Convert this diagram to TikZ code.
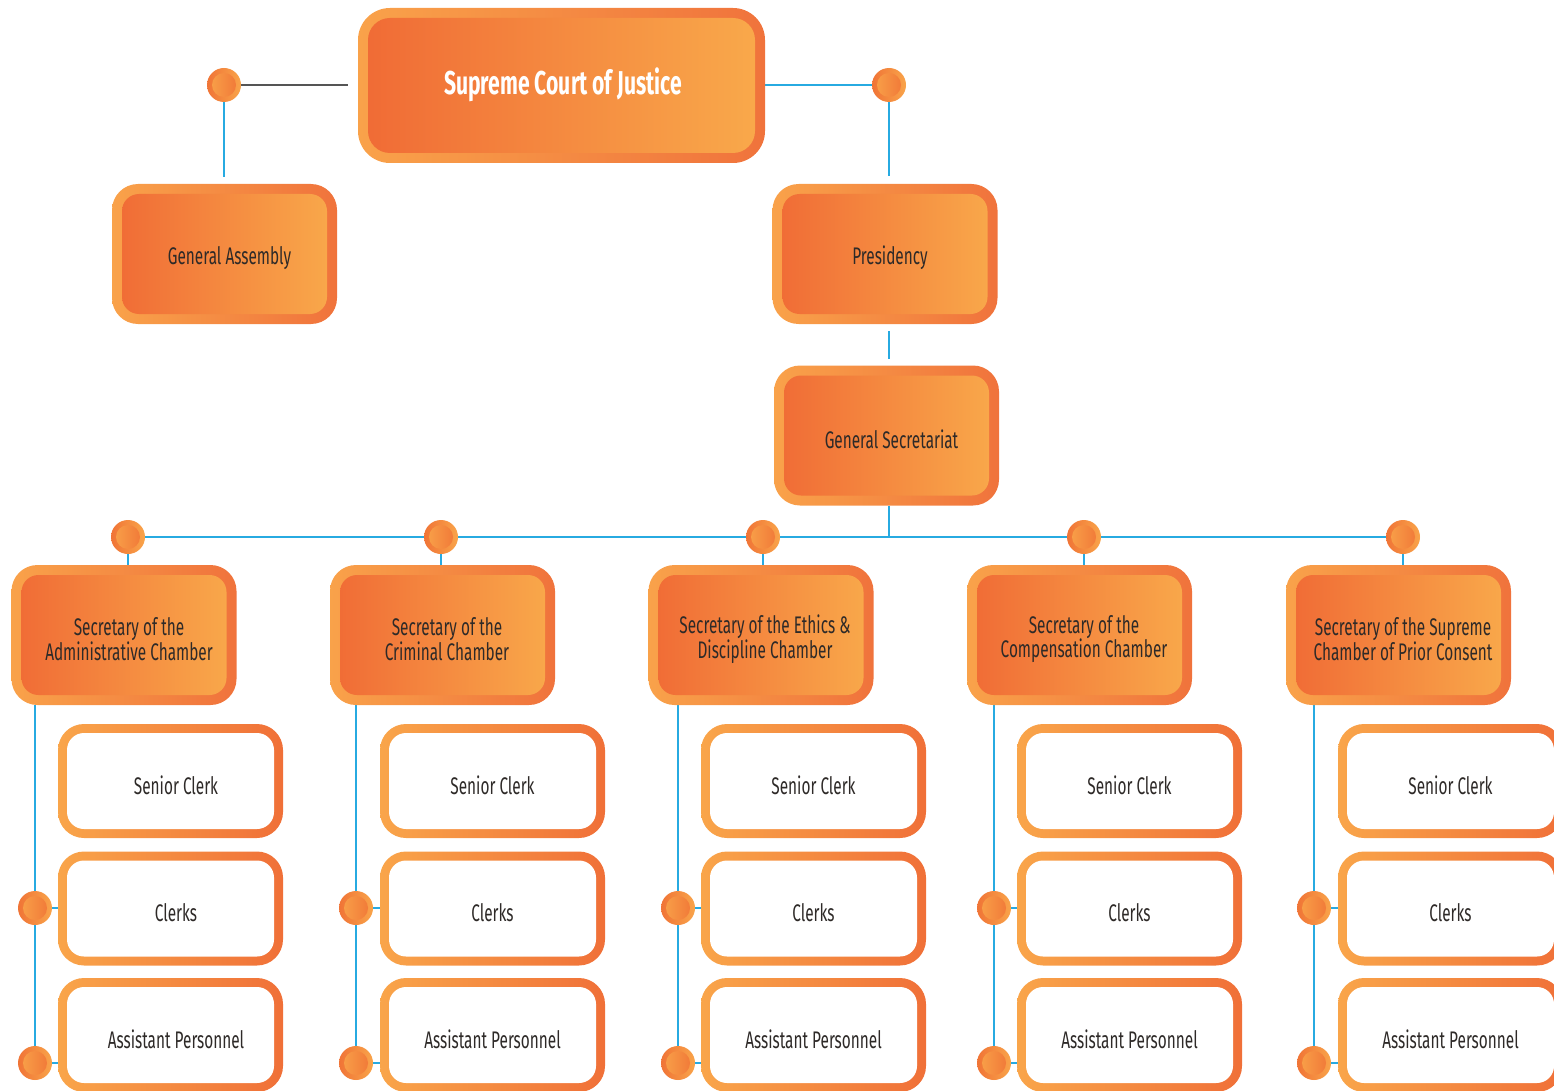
\documentclass[tikz,border=0pt]{standalone}
\usepackage{fontspec}
\newfontfamily\condfont[FakeStretch=0.64]{Fira Sans}
\usetikzlibrary{calc}
\pgfdeclarelayer{background}
\pgfsetlayers{background,main}

\definecolor{fillL}{HTML}{F06A35}
\definecolor{fillR}{HTML}{F9AA4B}
\definecolor{bordL}{HTML}{F9A24A}
\definecolor{bordR}{HTML}{F0733C}
\definecolor{wbordL}{HTML}{F9A54A}
\definecolor{wbordR}{HTML}{F07038}
\definecolor{ringL}{HTML}{F07436}
\definecolor{ringR}{HTML}{F9A44A}
\definecolor{txt}{HTML}{2E2A28}
\definecolor{linkblue}{HTML}{27AAE1}
\definecolor{linkgray}{HTML}{555555}

\tikzset{
  x=1pt, y=-1pt,
  % orange rounded box: light-to-dark rim around a dark-to-light fill
  orgbox/.style={rectangle, inner sep=0pt, minimum width=225pt, minimum height=140pt,
    rounded corners=26pt, left color=bordL, right color=bordR,
    path picture={\shade[left color=fillL, right color=fillR, rounded corners=17pt]
      ([shift={(10pt,10pt)}]path picture bounding box.south west) rectangle
      ([shift={(-10pt,-10pt)}]path picture bounding box.north east);}},
  topbox/.style={orgbox, minimum width=407pt, minimum height=155pt, rounded corners=32pt,
    path picture={\shade[left color=fillL, right color=fillR, rounded corners=22pt]
      ([shift={(10pt,10pt)}]path picture bounding box.south west) rectangle
      ([shift={(-10pt,-10pt)}]path picture bounding box.north east);}},
  % white staff box with an orange rim
  whitebox/.style={rectangle, inner sep=0pt, minimum width=225pt, minimum height=114pt,
    rounded corners=26pt, left color=wbordL, right color=wbordR,
    path picture={\fill[white, rounded corners=17pt]
      ([shift={(9pt,9pt)}]path picture bounding box.south west) rectangle
      ([shift={(-9pt,-9pt)}]path picture bounding box.north east);}},
  % connector joint
  joint/.style={circle, inner sep=0pt, minimum size=34pt, left color=ringL, right color=ringR,
    path picture={\shade[left color=ringR, right color=ringL]
      (path picture bounding box.center) circle (12pt);}},
  boxtext/.style={font=\condfont\fontsize{24}{23.5}\selectfont, text=txt, align=center, yshift=-4pt},
  titletext/.style={font=\condfont\bfseries\fontsize{33}{36}\selectfont, text=white},
  bluelink/.style={draw=linkblue, line width=2pt},
  graylink/.style={draw=linkgray, line width=2pt},
}

\begin{document}
\begin{tikzpicture}
\useasboundingbox (0,0) rectangle (1554,1091);
\clip (0,0) rectangle (1554,1091);

% upper part of the chart
\node[topbox, label={[titletext, xshift=1.5pt, yshift=1pt]center:Supreme Court of Justice}] (top) at (561.5,85.5) {};
\node[orgbox, label={[boxtext, xshift=5pt]center:General Assembly}] (ga) at (224.5,254) {};
\node[orgbox, label={[boxtext, xshift=5pt]center:Presidency}] (pres) at (885,254) {};
\node[orgbox, label={[boxtext, xshift=5pt]center:General Secretariat}] (gs) at (886.5,435.5) {};
\node[joint] (jA) at (224,85) {};
\node[joint] (jB) at (889,85) {};

% chambers and their staff
\foreach \i/\cx/\tx/\dx/\lx/\wx/\sx/\ttl in {
  1/124/129/128/35/170.5/176/{Secretary of the\\Administrative Chamber},
  2/442.5/447/441/356/492.5/492.5/{Secretary of the\\Criminal Chamber},
  3/761/765/763/678/813.5/813.5/{Secretary of the Ethics \&\\Discipline Chamber},
  4/1079.5/1084/1084/994/1129.5/1129.5/{Secretary of the\\Compensation Chamber},
  5/1398.5/1403/1403/1314/1450.5/1450.5/{Secretary of the Supreme\\Chamber of Prior Consent}}
{
  \node[orgbox, label={[boxtext, xshift={(\tx-\cx)*1pt}]center:\ttl}] (ch\i) at (\cx,635) {};
  \node[joint] (d\i) at (\dx,537) {};
  \node[whitebox, label={[boxtext, xshift={(\sx-\wx)*1pt}]center:Senior Clerk}] (sc\i) at (\wx,781) {};
  \node[whitebox, label={[boxtext, xshift={(\sx-\wx)*1pt}]center:Clerks}] (cl\i) at (\wx,908.5) {};
  \node[whitebox, label={[boxtext, xshift={(\sx-\wx)*1pt}]center:Assistant Personnel}] (ap\i) at (\wx,1035) {};
  \node[joint] (b\i) at (\lx,908) {};
  \node[joint] (c\i) at (\lx,1063) {};
  \begin{pgfonlayer}{background}
    \draw[bluelink] (d\i) -- (d\i |- ch\i.north);
    \draw[bluelink] (ch\i.south -| c\i) -- (c\i);
    \draw[bluelink] (b\i) -- (b\i -| cl\i.west);
    \draw[bluelink] (c\i) -- (c\i -| ap\i.west);
  \end{pgfonlayer}
}

\begin{pgfonlayer}{background}
  \draw[graylink] (jA) -- ([xshift=-10pt]top.west |- jA);
  \draw[bluelink] (jA) -- ([yshift=7pt]ga.north -| jA);
  \draw[bluelink] (top.east |- jB) -- (jB);
  \draw[bluelink] (jB) -- ([yshift=8pt]pres.north -| jB);
  \draw[bluelink] ([yshift=-7pt]pres.south -| jB) -- ([yshift=6pt]gs.north -| jB);
  \draw[bluelink] (gs.south -| jB) -- (jB |- d1);
  \draw[bluelink] (d1) -- (d5);
\end{pgfonlayer}
\end{tikzpicture}
\end{document}
